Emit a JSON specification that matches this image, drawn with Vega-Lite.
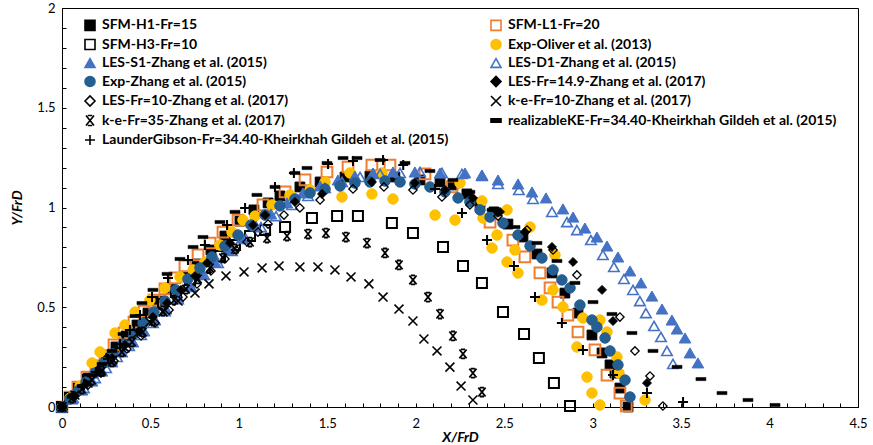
{
  "$schema": "https://vega.github.io/schema/vega-lite/v6.json",
  "width": 796,
  "height": 399,
  "autosize": {"type": "none"},
  "padding": {"left": 62, "top": 8, "right": 15, "bottom": 38},
  "background": "white",
  "config": {
    "view": {"stroke": "#000", "strokeWidth": 1},
    "font": "Lato",
    "legend": {"orient": "none", "direction": "horizontal", "legendX": 21, "legendY": 10, "columns": 2, "columnPadding": 38, "rowPadding": 1.5, "padding": 0, "labelFont": "Lato", "labelFontSize": 14, "labelFontWeight": "bold", "labelColor": "#000", "labelLimit": 600, "symbolSize": 100, "symbolStrokeWidth": 1.6, "labelOffset": 5, "symbolOpacity": 1}
  },
  "datasets": {
    "names": [
      {"k": 1, "series": "SFM-H1-Fr=15"},
      {"k": 2, "series": "SFM-L1-Fr=20"},
      {"k": 3, "series": "SFM-H3-Fr=10"},
      {"k": 4, "series": "Exp-Oliver et al. (2013)"},
      {"k": 5, "series": "LES-S1-Zhang et al. (2015)"},
      {"k": 6, "series": "LES-D1-Zhang et al. (2015)"},
      {"k": 7, "series": "Exp-Zhang et al. (2015)"},
      {"k": 8, "series": "LES-Fr=14.9-Zhang et al. (2017)"},
      {"k": 9, "series": "LES-Fr=10-Zhang et al. (2017)"},
      {"k": 10, "series": "k-e-Fr=10-Zhang et al. (2017)"},
      {"k": 11, "series": "k-e-Fr=35-Zhang et al. (2017)"},
      {"k": 12, "series": "realizableKE-Fr=34.40-Kheirkhah Gildeh et al. (2015)"},
      {"k": 13, "series": "LaunderGibson-Fr=34.40-Kheirkhah Gildeh et al. (2015)"}
    ],
    "pts": [
      {"k":1,"x":0,"y":0},{"k":1,"x":0.045,"y":0.045},{"k":1,"x":0.096,"y":0.095},{"k":1,"x":0.147,"y":0.145},{"k":1,"x":0.198,"y":0.196},{"k":1,"x":0.249,"y":0.246},{"k":1,"x":0.305,"y":0.301},{"k":1,"x":0.362,"y":0.356},{"k":1,"x":0.424,"y":0.411},{"k":1,"x":0.486,"y":0.471},{"k":1,"x":0.548,"y":0.531},{"k":1,"x":0.616,"y":0.592},{"k":1,"x":0.69,"y":0.652},{"k":1,"x":0.763,"y":0.717},{"k":1,"x":0.842,"y":0.787},{"k":1,"x":0.921,"y":0.857},{"k":1,"x":1.006,"y":0.932},{"k":1,"x":1.085,"y":0.988},{"k":1,"x":1.165,"y":1.023},{"k":1,"x":1.232,"y":1.058},{"k":1,"x":1.345,"y":1.103},{"k":1,"x":1.459,"y":1.128},{"k":1,"x":1.6,"y":1.153},{"k":1,"x":1.741,"y":1.158},{"k":1,"x":1.882,"y":1.153},{"k":1,"x":2.024,"y":1.138},{"k":1,"x":2.137,"y":1.128},{"k":1,"x":2.21,"y":1.113},{"k":1,"x":2.289,"y":1.068},{"k":1,"x":2.363,"y":1.023},{"k":1,"x":2.442,"y":0.978},{"k":1,"x":2.521,"y":0.917},{"k":1,"x":2.606,"y":0.852},{"k":1,"x":2.685,"y":0.767},{"k":1,"x":2.77,"y":0.672},{"k":1,"x":2.843,"y":0.571},{"k":1,"x":2.917,"y":0.471},{"k":1,"x":2.996,"y":0.361},{"k":1,"x":3.053,"y":0.271},{"k":1,"x":3.098,"y":0.211},{"k":1,"x":3.126,"y":0.17},{"k":1,"x":3.154,"y":0.095},{"k":1,"x":3.2,"y":0},
      {"k":2,"x":0,"y":0},{"k":2,"x":0.045,"y":0.05},{"k":2,"x":0.09,"y":0.1},{"k":2,"x":0.141,"y":0.15},{"k":2,"x":0.192,"y":0.206},{"k":2,"x":0.243,"y":0.256},{"k":2,"x":0.294,"y":0.311},{"k":2,"x":0.351,"y":0.371},{"k":2,"x":0.407,"y":0.426},{"k":2,"x":0.464,"y":0.481},{"k":2,"x":0.52,"y":0.536},{"k":2,"x":0.582,"y":0.592},{"k":2,"x":0.639,"y":0.647},{"k":2,"x":0.695,"y":0.707},{"k":2,"x":0.769,"y":0.762},{"k":2,"x":0.837,"y":0.822},{"k":2,"x":0.91,"y":0.877},{"k":2,"x":0.995,"y":0.937},{"k":2,"x":1.136,"y":1.013},{"k":2,"x":1.261,"y":1.078},{"k":2,"x":1.374,"y":1.138},{"k":2,"x":1.498,"y":1.178},{"k":2,"x":1.617,"y":1.203},{"k":2,"x":1.752,"y":1.213},{"k":2,"x":1.854,"y":1.213},{"k":2,"x":2.052,"y":1.168},{"k":2,"x":2.205,"y":1.103},{"k":2,"x":2.42,"y":0.927},{"k":2,"x":2.549,"y":0.837},{"k":2,"x":2.617,"y":0.752},{"k":2,"x":2.702,"y":0.672},{"k":2,"x":2.759,"y":0.597},{"k":2,"x":2.804,"y":0.526},{"k":2,"x":2.86,"y":0.461},{"k":2,"x":2.917,"y":0.376},{"k":2,"x":3.013,"y":0.286},{"k":2,"x":3.081,"y":0.16},{"k":2,"x":3.154,"y":0.07},{"k":2,"x":3.19,"y":0.005},
      {"k":3,"x":0,"y":0},{"k":3,"x":0.045,"y":0.045},{"k":3,"x":0.096,"y":0.09},{"k":3,"x":0.147,"y":0.135},{"k":3,"x":0.198,"y":0.18},{"k":3,"x":0.254,"y":0.231},{"k":3,"x":0.311,"y":0.286},{"k":3,"x":0.373,"y":0.341},{"k":3,"x":0.435,"y":0.396},{"k":3,"x":0.503,"y":0.456},{"k":3,"x":0.571,"y":0.516},{"k":3,"x":0.644,"y":0.576},{"k":3,"x":0.724,"y":0.637},{"k":3,"x":0.808,"y":0.697},{"k":3,"x":0.893,"y":0.757},{"k":3,"x":0.978,"y":0.812},{"k":3,"x":1.063,"y":0.857},{"k":3,"x":1.148,"y":0.887},{"k":3,"x":1.261,"y":0.902},{"k":3,"x":1.413,"y":0.947},{"k":3,"x":1.555,"y":0.957},{"k":3,"x":1.673,"y":0.957},{"k":3,"x":1.865,"y":0.922},{"k":3,"x":1.984,"y":0.872},{"k":3,"x":2.154,"y":0.802},{"k":3,"x":2.267,"y":0.707},{"k":3,"x":2.374,"y":0.622},{"k":3,"x":2.493,"y":0.476},{"k":3,"x":2.612,"y":0.366},{"k":3,"x":2.696,"y":0.246},{"k":3,"x":2.781,"y":0.12},{"k":3,"x":2.872,"y":0.005},
      {"k":4,"x":0,"y":0},{"k":4,"x":0.045,"y":0.045},{"k":4,"x":0.102,"y":0.105},{"k":4,"x":0.17,"y":0.221},{"k":4,"x":0.215,"y":0.276},{"k":4,"x":0.3,"y":0.371},{"k":4,"x":0.356,"y":0.411},{"k":4,"x":0.413,"y":0.476},{"k":4,"x":0.497,"y":0.536},{"k":4,"x":0.582,"y":0.597},{"k":4,"x":0.667,"y":0.652},{"k":4,"x":0.741,"y":0.687},{"k":4,"x":0.808,"y":0.727},{"k":4,"x":0.893,"y":0.812},{"k":4,"x":0.961,"y":0.877},{"k":4,"x":1.023,"y":0.937},{"k":4,"x":1.091,"y":0.957},{"k":4,"x":1.187,"y":1.013},{"k":4,"x":1.289,"y":1.063},{"k":4,"x":1.402,"y":1.088},{"k":4,"x":1.487,"y":1.128},{"k":4,"x":1.583,"y":1.053},{"k":4,"x":1.628,"y":1.173},{"k":4,"x":1.752,"y":1.068},{"k":4,"x":1.809,"y":1.173},{"k":4,"x":1.871,"y":1.043},{"k":4,"x":2.109,"y":0.962},{"k":4,"x":2.222,"y":0.937},{"k":4,"x":2.25,"y":1.123},{"k":4,"x":2.374,"y":1.033},{"k":4,"x":2.38,"y":0.947},{"k":4,"x":2.431,"y":0.797},{"k":4,"x":2.459,"y":0.862},{"k":4,"x":2.516,"y":0.988},{"k":4,"x":2.516,"y":0.727},{"k":4,"x":2.561,"y":0.787},{"k":4,"x":2.578,"y":0.672},{"k":4,"x":2.646,"y":0.902},{"k":4,"x":2.713,"y":0.536},{"k":4,"x":2.776,"y":0.587},{"k":4,"x":2.787,"y":0.762},{"k":4,"x":2.832,"y":0.501},{"k":4,"x":2.911,"y":0.301},{"k":4,"x":2.945,"y":0.446},{"k":4,"x":2.968,"y":0.15},{"k":4,"x":2.996,"y":0.07},{"k":4,"x":3.041,"y":0.436},{"k":4,"x":3.041,"y":0.01},{"k":4,"x":3.081,"y":0.376},{"k":4,"x":3.137,"y":0.251},{"k":4,"x":3.149,"y":0.17},{"k":4,"x":3.296,"y":0.035},
      {"k":5,"x":0,"y":0},{"k":5,"x":0.057,"y":0.04},{"k":5,"x":0.113,"y":0.085},{"k":5,"x":0.17,"y":0.13},{"k":5,"x":0.226,"y":0.18},{"k":5,"x":0.283,"y":0.226},{"k":5,"x":0.339,"y":0.276},{"k":5,"x":0.401,"y":0.326},{"k":5,"x":0.464,"y":0.381},{"k":5,"x":0.526,"y":0.436},{"k":5,"x":0.588,"y":0.491},{"k":5,"x":0.656,"y":0.551},{"k":5,"x":0.724,"y":0.607},{"k":5,"x":0.791,"y":0.667},{"k":5,"x":0.865,"y":0.727},{"k":5,"x":0.938,"y":0.787},{"k":5,"x":1.018,"y":0.847},{"k":5,"x":1.097,"y":0.907},{"k":5,"x":1.181,"y":0.968},{"k":5,"x":1.272,"y":1.023},{"k":5,"x":1.362,"y":1.073},{"k":5,"x":1.459,"y":1.108},{"k":5,"x":1.56,"y":1.138},{"k":5,"x":1.656,"y":1.158},{"k":5,"x":1.758,"y":1.173},{"k":5,"x":1.871,"y":1.178},{"k":5,"x":1.995,"y":1.178},{"k":5,"x":2.137,"y":1.173},{"k":5,"x":2.278,"y":1.173},{"k":5,"x":2.374,"y":1.163},{"k":5,"x":2.465,"y":1.138},{"k":5,"x":2.578,"y":1.118},{"k":5,"x":2.657,"y":1.078},{"k":5,"x":2.736,"y":1.048},{"k":5,"x":2.832,"y":0.993},{"k":5,"x":2.889,"y":0.952},{"k":5,"x":2.956,"y":0.897},{"k":5,"x":3.024,"y":0.852},{"k":5,"x":3.081,"y":0.807},{"k":5,"x":3.143,"y":0.752},{"k":5,"x":3.211,"y":0.682},{"k":5,"x":3.273,"y":0.622},{"k":5,"x":3.335,"y":0.556},{"k":5,"x":3.392,"y":0.491},{"k":5,"x":3.448,"y":0.436},{"k":5,"x":3.477,"y":0.391},{"k":5,"x":3.522,"y":0.346},{"k":5,"x":3.55,"y":0.271},{"k":5,"x":3.595,"y":0.221},
      {"k":6,"x":0,"y":0},{"k":6,"x":0.062,"y":0.045},{"k":6,"x":0.124,"y":0.095},{"k":6,"x":0.187,"y":0.145},{"k":6,"x":0.249,"y":0.196},{"k":6,"x":0.311,"y":0.251},{"k":6,"x":0.379,"y":0.306},{"k":6,"x":0.447,"y":0.361},{"k":6,"x":0.514,"y":0.421},{"k":6,"x":0.582,"y":0.481},{"k":6,"x":0.656,"y":0.541},{"k":6,"x":0.729,"y":0.602},{"k":6,"x":0.803,"y":0.662},{"k":6,"x":0.882,"y":0.722},{"k":6,"x":0.961,"y":0.782},{"k":6,"x":1.04,"y":0.842},{"k":6,"x":1.125,"y":0.902},{"k":6,"x":1.21,"y":0.957},{"k":6,"x":1.3,"y":1.013},{"k":6,"x":1.391,"y":1.058},{"k":6,"x":1.487,"y":1.098},{"k":6,"x":1.583,"y":1.128},{"k":6,"x":1.685,"y":1.153},{"k":6,"x":1.798,"y":1.168},{"k":6,"x":1.911,"y":1.173},{"k":6,"x":2.024,"y":1.178},{"k":6,"x":2.148,"y":1.173},{"k":6,"x":2.261,"y":1.168},{"k":6,"x":2.374,"y":1.158},{"k":6,"x":2.465,"y":1.118},{"k":6,"x":2.583,"y":1.088},{"k":6,"x":2.663,"y":1.043},{"k":6,"x":2.77,"y":0.978},{"k":6,"x":2.855,"y":0.927},{"k":6,"x":2.911,"y":0.887},{"k":6,"x":2.99,"y":0.837},{"k":6,"x":3.058,"y":0.762},{"k":6,"x":3.12,"y":0.702},{"k":6,"x":3.177,"y":0.642},{"k":6,"x":3.228,"y":0.587},{"k":6,"x":3.267,"y":0.531},{"k":6,"x":3.301,"y":0.471},{"k":6,"x":3.347,"y":0.406},{"k":6,"x":3.386,"y":0.351},{"k":6,"x":3.42,"y":0.281},{"k":6,"x":3.454,"y":0.216},
      {"k":7,"x":0,"y":0},{"k":7,"x":0.045,"y":0.04},{"k":7,"x":0.09,"y":0.08},{"k":7,"x":0.136,"y":0.125},{"k":7,"x":0.187,"y":0.17},{"k":7,"x":0.237,"y":0.221},{"k":7,"x":0.288,"y":0.266},{"k":7,"x":0.345,"y":0.316},{"k":7,"x":0.401,"y":0.366},{"k":7,"x":0.458,"y":0.421},{"k":7,"x":0.52,"y":0.476},{"k":7,"x":0.582,"y":0.531},{"k":7,"x":0.644,"y":0.587},{"k":7,"x":0.712,"y":0.642},{"k":7,"x":0.78,"y":0.697},{"k":7,"x":0.848,"y":0.752},{"k":7,"x":0.921,"y":0.807},{"k":7,"x":0.995,"y":0.862},{"k":7,"x":1.068,"y":0.912},{"k":7,"x":1.148,"y":0.962},{"k":7,"x":1.232,"y":1.008},{"k":7,"x":1.317,"y":1.043},{"k":7,"x":1.402,"y":1.073},{"k":7,"x":1.487,"y":1.093},{"k":7,"x":1.572,"y":1.108},{"k":7,"x":1.656,"y":1.123},{"k":7,"x":1.741,"y":1.128},{"k":7,"x":1.826,"y":1.133},{"k":7,"x":1.911,"y":1.128},{"k":7,"x":1.995,"y":1.118},{"k":7,"x":2.08,"y":1.103},{"k":7,"x":2.165,"y":1.078},{"k":7,"x":2.239,"y":1.048},{"k":7,"x":2.306,"y":1.028},{"k":7,"x":2.363,"y":0.988},{"k":7,"x":2.42,"y":0.952},{"k":7,"x":2.493,"y":0.922},{"k":7,"x":2.578,"y":0.862},{"k":7,"x":2.646,"y":0.807},{"k":7,"x":2.713,"y":0.747},{"k":7,"x":2.776,"y":0.687},{"k":7,"x":2.826,"y":0.637},{"k":7,"x":2.872,"y":0.597},{"k":7,"x":2.928,"y":0.511},{"k":7,"x":2.996,"y":0.436},{"k":7,"x":3.024,"y":0.401},{"k":7,"x":3.07,"y":0.346},{"k":7,"x":3.098,"y":0.281},{"k":7,"x":3.143,"y":0.211},{"k":7,"x":3.183,"y":0.135},{"k":7,"x":3.211,"y":0.05},
      {"k":8,"x":0,"y":0},{"k":8,"x":0.068,"y":0.055},{"k":8,"x":0.136,"y":0.115},{"k":8,"x":0.209,"y":0.18},{"k":8,"x":0.283,"y":0.246},{"k":8,"x":0.356,"y":0.311},{"k":8,"x":0.435,"y":0.381},{"k":8,"x":0.514,"y":0.451},{"k":8,"x":0.594,"y":0.521},{"k":8,"x":0.673,"y":0.587},{"k":8,"x":0.752,"y":0.657},{"k":8,"x":0.82,"y":0.722},{"k":8,"x":0.95,"y":0.822},{"k":8,"x":1.08,"y":0.912},{"k":8,"x":1.148,"y":0.962},{"k":8,"x":1.317,"y":1.028},{"k":8,"x":1.47,"y":1.068},{"k":8,"x":1.752,"y":1.128},{"k":8,"x":1.995,"y":1.123},{"k":8,"x":2.165,"y":1.088},{"k":8,"x":2.323,"y":1.048},{"k":8,"x":2.476,"y":0.978},{"k":8,"x":2.617,"y":0.877},{"k":8,"x":2.77,"y":0.802},{"k":8,"x":2.889,"y":0.727},{"k":8,"x":3.053,"y":0.587},{"k":8,"x":3.115,"y":0.431},{"k":8,"x":3.307,"y":0.12},
      {"k":9,"x":0,"y":0},{"k":9,"x":0.073,"y":0.055},{"k":9,"x":0.147,"y":0.11},{"k":9,"x":0.22,"y":0.17},{"k":9,"x":0.294,"y":0.231},{"k":9,"x":0.367,"y":0.291},{"k":9,"x":0.447,"y":0.356},{"k":9,"x":0.526,"y":0.421},{"k":9,"x":0.605,"y":0.486},{"k":9,"x":0.684,"y":0.551},{"k":9,"x":0.763,"y":0.617},{"k":9,"x":0.842,"y":0.682},{"k":9,"x":0.921,"y":0.742},{"k":9,"x":0.984,"y":0.787},{"k":9,"x":1.046,"y":0.827},{"k":9,"x":1.108,"y":0.877},{"k":9,"x":1.165,"y":0.917},{"k":9,"x":1.255,"y":0.962},{"k":9,"x":1.345,"y":0.998},{"k":9,"x":1.459,"y":1.038},{"k":9,"x":1.645,"y":1.093},{"k":9,"x":1.82,"y":1.103},{"k":9,"x":1.984,"y":1.088},{"k":9,"x":2.148,"y":1.053},{"k":9,"x":2.306,"y":1.013},{"k":9,"x":2.465,"y":0.957},{"k":9,"x":2.629,"y":0.887},{"k":9,"x":2.776,"y":0.787},{"k":9,"x":2.911,"y":0.662},{"k":9,"x":3.154,"y":0.451},{"k":9,"x":3.239,"y":0.281},{"k":9,"x":3.324,"y":0.155},{"k":9,"x":3.397,"y":0.005},
      {"k":10,"x":0,"y":0},{"k":10,"x":0.073,"y":0.06},{"k":10,"x":0.147,"y":0.12},{"k":10,"x":0.215,"y":0.175},{"k":10,"x":0.288,"y":0.236},{"k":10,"x":0.356,"y":0.296},{"k":10,"x":0.429,"y":0.371},{"k":10,"x":0.497,"y":0.426},{"k":10,"x":0.571,"y":0.476},{"k":10,"x":0.656,"y":0.531},{"k":10,"x":0.752,"y":0.571},{"k":10,"x":0.831,"y":0.617},{"k":10,"x":0.927,"y":0.657},{"k":10,"x":1.029,"y":0.677},{"k":10,"x":1.131,"y":0.697},{"k":10,"x":1.227,"y":0.707},{"k":10,"x":1.345,"y":0.702},{"k":10,"x":1.447,"y":0.702},{"k":10,"x":1.543,"y":0.687},{"k":10,"x":1.634,"y":0.652},{"k":10,"x":1.735,"y":0.617},{"k":10,"x":1.815,"y":0.551},{"k":10,"x":1.905,"y":0.491},{"k":10,"x":1.984,"y":0.431},{"k":10,"x":2.046,"y":0.341},{"k":10,"x":2.12,"y":0.281},{"k":10,"x":2.193,"y":0.2},{"k":10,"x":2.256,"y":0.105},{"k":10,"x":2.323,"y":0.035},
      {"k":11,"x":0,"y":0},{"k":11,"x":0.057,"y":0.045},{"k":11,"x":0.113,"y":0.09},{"k":11,"x":0.17,"y":0.135},{"k":11,"x":0.226,"y":0.18},{"k":11,"x":0.283,"y":0.226},{"k":11,"x":0.339,"y":0.276},{"k":11,"x":0.396,"y":0.326},{"k":11,"x":0.458,"y":0.376},{"k":11,"x":0.514,"y":0.431},{"k":11,"x":0.571,"y":0.481},{"k":11,"x":0.633,"y":0.536},{"k":11,"x":0.701,"y":0.591},{"k":11,"x":0.769,"y":0.642},{"k":11,"x":0.837,"y":0.697},{"k":11,"x":0.91,"y":0.747},{"k":11,"x":0.978,"y":0.792},{"k":11,"x":1.063,"y":0.827},{"k":11,"x":1.159,"y":0.847},{"k":11,"x":1.272,"y":0.857},{"k":11,"x":1.391,"y":0.867},{"k":11,"x":1.492,"y":0.872},{"k":11,"x":1.605,"y":0.852},{"k":11,"x":1.724,"y":0.822},{"k":11,"x":1.826,"y":0.772},{"k":11,"x":1.905,"y":0.712},{"k":11,"x":1.984,"y":0.637},{"k":11,"x":2.069,"y":0.551},{"k":11,"x":2.137,"y":0.466},{"k":11,"x":2.21,"y":0.356},{"k":11,"x":2.267,"y":0.266},{"k":11,"x":2.323,"y":0.17},{"k":11,"x":2.374,"y":0.075},
      {"k":12,"x":0,"y":0},{"k":12,"x":0.057,"y":0.05},{"k":12,"x":0.113,"y":0.105},{"k":12,"x":0.17,"y":0.16},{"k":12,"x":0.226,"y":0.216},{"k":12,"x":0.283,"y":0.281},{"k":12,"x":0.345,"y":0.366},{"k":12,"x":0.413,"y":0.456},{"k":12,"x":0.452,"y":0.521},{"k":12,"x":0.514,"y":0.587},{"k":12,"x":0.594,"y":0.667},{"k":12,"x":0.667,"y":0.742},{"k":12,"x":0.741,"y":0.802},{"k":12,"x":0.797,"y":0.852},{"k":12,"x":0.893,"y":0.927},{"k":12,"x":0.978,"y":0.978},{"k":12,"x":1.102,"y":1.063},{"k":12,"x":1.204,"y":1.103},{"k":12,"x":1.317,"y":1.173},{"k":12,"x":1.385,"y":1.198},{"k":12,"x":1.498,"y":1.223},{"k":12,"x":1.589,"y":1.248},{"k":12,"x":1.668,"y":1.248},{"k":12,"x":1.798,"y":1.238},{"k":12,"x":1.939,"y":1.223},{"k":12,"x":2.08,"y":1.183},{"k":12,"x":2.21,"y":1.138},{"k":12,"x":2.306,"y":1.078},{"k":12,"x":2.431,"y":0.988},{"k":12,"x":2.561,"y":0.902},{"k":12,"x":2.685,"y":0.822},{"k":12,"x":2.798,"y":0.732},{"k":12,"x":2.9,"y":0.622},{"k":12,"x":3.002,"y":0.526},{"k":12,"x":3.109,"y":0.466},{"k":12,"x":3.222,"y":0.371},{"k":12,"x":3.341,"y":0.281},{"k":12,"x":3.477,"y":0.201},{"k":12,"x":3.612,"y":0.14},{"k":12,"x":3.731,"y":0.07},{"k":12,"x":3.878,"y":0.035},{"k":12,"x":4.031,"y":0.01},
      {"k":13,"x":0,"y":0},{"k":13,"x":0.062,"y":0.055},{"k":13,"x":0.124,"y":0.11},{"k":13,"x":0.192,"y":0.175},{"k":13,"x":0.26,"y":0.241},{"k":13,"x":0.328,"y":0.316},{"k":13,"x":0.384,"y":0.386},{"k":13,"x":0.441,"y":0.461},{"k":13,"x":0.509,"y":0.551},{"k":13,"x":0.599,"y":0.647},{"k":13,"x":0.712,"y":0.737},{"k":13,"x":0.808,"y":0.812},{"k":13,"x":0.933,"y":0.912},{"k":13,"x":1.035,"y":0.998},{"k":13,"x":1.204,"y":1.103},{"k":13,"x":1.311,"y":1.173},{"k":13,"x":1.504,"y":1.218},{"k":13,"x":1.645,"y":1.233},{"k":13,"x":1.815,"y":1.238},{"k":13,"x":1.929,"y":1.213},{"k":13,"x":2.109,"y":1.093},{"k":13,"x":2.261,"y":0.973},{"k":13,"x":2.403,"y":0.837},{"k":13,"x":2.555,"y":0.707},{"k":13,"x":2.674,"y":0.551},{"k":13,"x":2.826,"y":0.421},{"k":13,"x":2.945,"y":0.286},{"k":13,"x":3.115,"y":0.16},{"k":13,"x":3.307,"y":0.07},{"k":13,"x":3.511,"y":0.025}
    ]
  },
  "data": {"name": "pts"},
  "transform": [
    {"lookup": "k", "from": {"data": {"name": "names"}, "key": "k", "fields": ["series"]}}
  ],
  "mark": {"type": "point", "opacity": 1, "filled": true},
  "encoding": {
    "x": {
      "field": "x", "type": "quantitative",
      "scale": {"domain": [0, 4.5], "nice": false, "zero": false},
      "axis": {
        "title": "X/FrD", "titleFont": "Lato", "titleFontSize": 14, "titleFontStyle": "italic", "titleFontWeight": "bold", "titleColor": "#000", "titlePadding": 0,
        "values": [0,0.1,0.2,0.3,0.4,0.5,0.6,0.7,0.8,0.9,1,1.1,1.2,1.3,1.4,1.5,1.6,1.7,1.8,1.9,2,2.1,2.2,2.3,2.4,2.5,2.6,2.7,2.8,2.9,3,3.1,3.2,3.3,3.4,3.5,3.6,3.7,3.8,3.9,4,4.1,4.2,4.3,4.4,4.5],
        "labelExpr": "abs(datum.value*2 - round(datum.value*2)) < 0.001 ? toString(round(datum.value*10)/10) : ''",
        "labelOverlap": false, "labelFlush": false, "labelBound": false,
        "tickSize": -4, "labelPadding": 14, "grid": false,
        "domainColor": "#000", "tickColor": "#000", "labelColor": "#000", "labelFont": "Lato", "labelFontSize": 13
      }
    },
    "y": {
      "field": "y", "type": "quantitative",
      "scale": {"domain": [0, 2], "nice": false, "zero": false},
      "axis": {
        "title": "Y/FrD", "titleFont": "Lato", "titleFontSize": 14, "titleFontStyle": "italic", "titleFontWeight": "bold", "titleColor": "#000", "titlePadding": 12,
        "values": [0,0.1,0.2,0.3,0.4,0.5,0.6,0.7,0.8,0.9,1,1.1,1.2,1.3,1.4,1.5,1.6,1.7,1.8,1.9,2],
        "labelExpr": "abs(datum.value*2 - round(datum.value*2)) < 0.001 ? toString(round(datum.value*10)/10) : ''",
        "labelOverlap": false, "labelFlush": false, "labelBound": false,
        "tickSize": -4, "labelPadding": 11, "grid": false,
        "domainColor": "#000", "tickColor": "#000", "labelColor": "#000", "labelFont": "Lato", "labelFontSize": 13
      }
    },
    "shape": {
      "field": "series", "type": "nominal", "title": null,
      "scale": {
        "domain": ["SFM-H1-Fr=15","SFM-L1-Fr=20","SFM-H3-Fr=10","Exp-Oliver et al. (2013)","LES-S1-Zhang et al. (2015)","LES-D1-Zhang et al. (2015)","Exp-Zhang et al. (2015)","LES-Fr=14.9-Zhang et al. (2017)","LES-Fr=10-Zhang et al. (2017)","k-e-Fr=10-Zhang et al. (2017)","k-e-Fr=35-Zhang et al. (2017)","realizableKE-Fr=34.40-Kheirkhah Gildeh et al. (2015)","LaunderGibson-Fr=34.40-Kheirkhah Gildeh et al. (2015)"],
        "range": ["square","square","square","circle","triangle-up","triangle-up","circle","diamond","diamond","M-1,-1L1,1M-1,1L1,-1","M-0.8,-1L0.8,1M-0.8,1L0.8,-1M-0.45,-1H0.45M-0.45,1H0.45","M-1,-0.32H1V0.32H-1Z","M0,-1V1M-1,0H1"]
      }
    },
    "fill": {
      "field": "series", "type": "nominal", "title": null,
      "scale": {
        "domain": ["SFM-H1-Fr=15","SFM-L1-Fr=20","SFM-H3-Fr=10","Exp-Oliver et al. (2013)","LES-S1-Zhang et al. (2015)","LES-D1-Zhang et al. (2015)","Exp-Zhang et al. (2015)","LES-Fr=14.9-Zhang et al. (2017)","LES-Fr=10-Zhang et al. (2017)","k-e-Fr=10-Zhang et al. (2017)","k-e-Fr=35-Zhang et al. (2017)","realizableKE-Fr=34.40-Kheirkhah Gildeh et al. (2015)","LaunderGibson-Fr=34.40-Kheirkhah Gildeh et al. (2015)"],
        "range": ["#000000","transparent","transparent","#FFC000","#4472C4","transparent","#255E91","#000000","transparent","transparent","transparent","#000000","transparent"]
      }
    },
    "stroke": {
      "field": "series", "type": "nominal", "title": null,
      "scale": {
        "domain": ["SFM-H1-Fr=15","SFM-L1-Fr=20","SFM-H3-Fr=10","Exp-Oliver et al. (2013)","LES-S1-Zhang et al. (2015)","LES-D1-Zhang et al. (2015)","Exp-Zhang et al. (2015)","LES-Fr=14.9-Zhang et al. (2017)","LES-Fr=10-Zhang et al. (2017)","k-e-Fr=10-Zhang et al. (2017)","k-e-Fr=35-Zhang et al. (2017)","realizableKE-Fr=34.40-Kheirkhah Gildeh et al. (2015)","LaunderGibson-Fr=34.40-Kheirkhah Gildeh et al. (2015)"],
        "range": ["#000000","#ED7D31","#000000","#FFC000","#4472C4","#4472C4","#255E91","#000000","#000000","#000000","#000000","#000000","#000000"]
      }
    },
    "size": {
      "field": "k", "type": "ordinal", "legend": null,
      "scale": {
        "type": "ordinal",
        "domain": [1,2,3,4,5,6,7,8,9,10,11,12,13],
        "range": [95, 115, 100, 110, 135, 110, 110, 80, 70, 80, 80, 100, 100]
      }
    },
    "strokeWidth": {
      "field": "k", "type": "ordinal", "legend": null,
      "scale": {
        "type": "ordinal",
        "domain": [1,2,3,4,5,6,7,8,9,10,11,12,13],
        "range": [1, 2, 2, 1, 1, 1.6, 1, 1, 1.3, 1.6, 1.8, 0.5, 2]
      }
    }
  }
}
